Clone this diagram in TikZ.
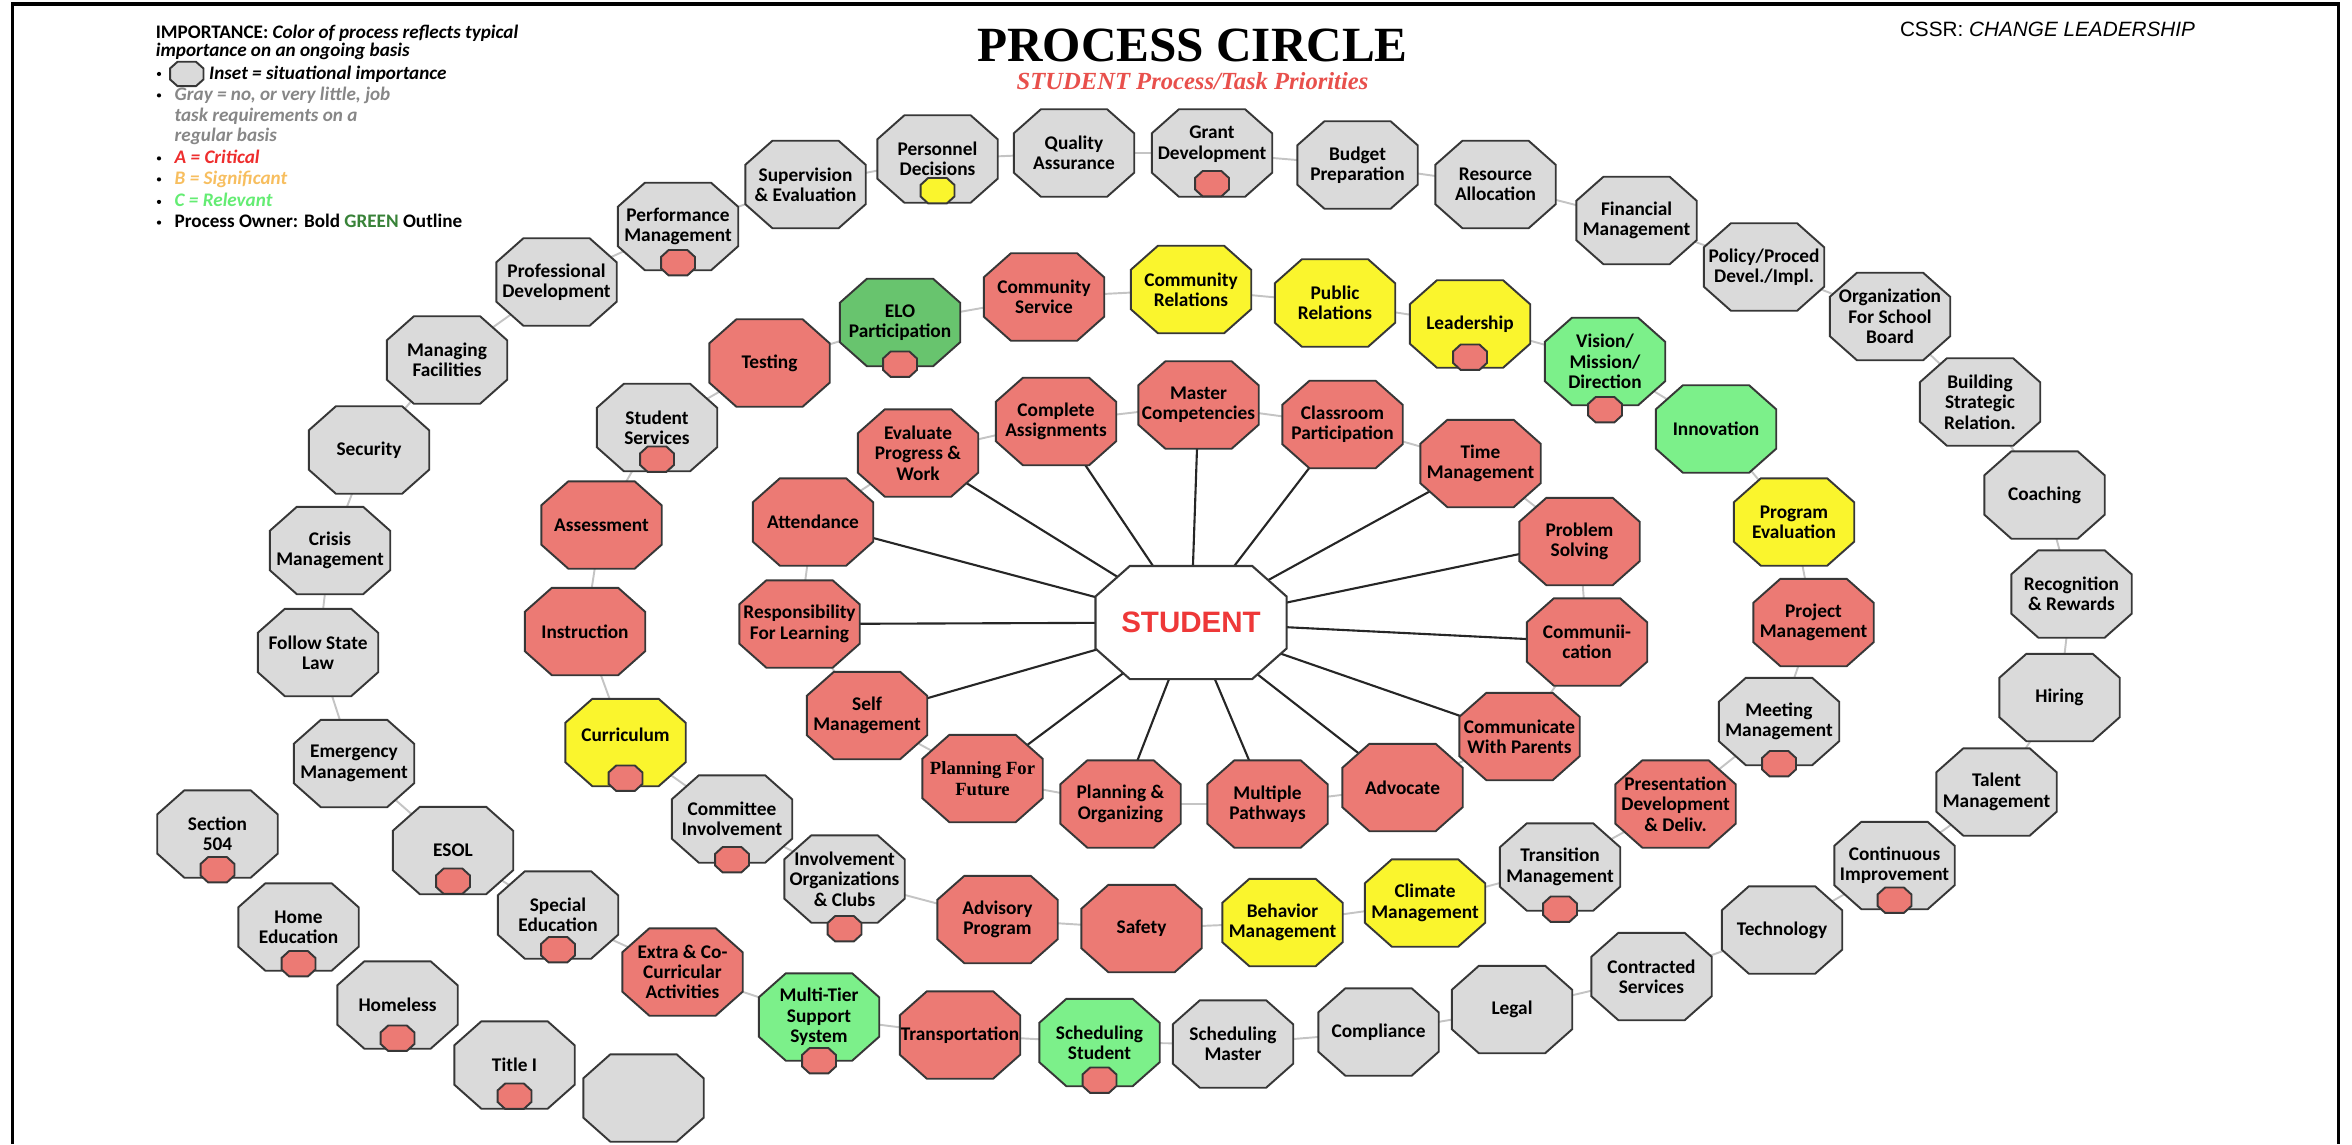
\documentclass[tikz,border=0pt]{standalone}
\usepackage{fontspec}
\setmainfont{Carlito}
\newfontfamily\serifT{Liberation Serif}
\newfontfamily\sansA{Liberation Sans}
\usetikzlibrary{backgrounds}

\definecolor{cgray}{RGB}{218,218,218}
\definecolor{cred}{RGB}{236,122,116}
\definecolor{cyel}{RGB}{250,245,45}
\definecolor{clg}{RGB}{124,240,138}
\definecolor{cdg}{RGB}{104,196,110}
\definecolor{oline}{RGB}{55,55,55}
\definecolor{linkc}{RGB}{196,196,196}
\definecolor{subred}{RGB}{232,80,76}
\definecolor{stured}{RGB}{238,56,56}
\definecolor{leggray}{RGB}{135,135,135}
\definecolor{legred}{RGB}{238,45,45}
\definecolor{legorange}{RGB}{247,190,95}
\definecolor{leggreen}{RGB}{100,236,115}
\definecolor{darkgreen}{RGB}{56,130,56}

\makeatletter
\newdimen\octXa \newdimen\octYa \newdimen\octXb \newdimen\octYb
\newdimen\octCx \newdimen\octCy
\def\octfx{0.225}\def\octfy{0.275}
\pgfdeclareshape{octo}{%
  \inheritsavedanchors[from=rectangle]
  \inheritanchorborder[from=rectangle]
  \inheritanchor[from=rectangle]{center}
  \inheritanchor[from=rectangle]{north}
  \inheritanchor[from=rectangle]{south}
  \inheritanchor[from=rectangle]{east}
  \inheritanchor[from=rectangle]{west}
  \inheritanchor[from=rectangle]{north east}
  \inheritanchor[from=rectangle]{north west}
  \inheritanchor[from=rectangle]{south east}
  \inheritanchor[from=rectangle]{south west}
  \backgroundpath{%
    \southwest \octXa=\pgf@x \octYa=\pgf@y
    \northeast \octXb=\pgf@x \octYb=\pgf@y
    \octCx=\octXb \advance\octCx by -\octXa \octCx=\octfx\octCx
    \octCy=\octYb \advance\octCy by -\octYa \octCy=\octfy\octCy
    \pgfpathmoveto{\pgfqpoint{\dimexpr\octXa+\octCx\relax}{\octYa}}%
    \pgfpathlineto{\pgfqpoint{\dimexpr\octXb-\octCx\relax}{\octYa}}%
    \pgfpathlineto{\pgfqpoint{\octXb}{\dimexpr\octYa+\octCy\relax}}%
    \pgfpathlineto{\pgfqpoint{\octXb}{\dimexpr\octYb-\octCy\relax}}%
    \pgfpathlineto{\pgfqpoint{\dimexpr\octXb-\octCx\relax}{\octYb}}%
    \pgfpathlineto{\pgfqpoint{\dimexpr\octXa+\octCx\relax}{\octYb}}%
    \pgfpathlineto{\pgfqpoint{\octXa}{\dimexpr\octYb-\octCy\relax}}%
    \pgfpathlineto{\pgfqpoint{\octXa}{\dimexpr\octYa+\octCy\relax}}%
    \pgfpathclose
  }%
}
\makeatother

\tikzset{
  octfx/.code={\def\octfx{#1}},
  octfy/.code={\def\octfy{#1}},
  nfont/.style={font=\bfseries\fontsize{5.5}{5.8}\selectfont},
  box/.style={shape=octo, draw=oline, line width=0.55pt, minimum width=11.85mm,
    minimum height=8.55mm, inner sep=0pt, align=center, text=black, nfont},
  gr/.style={box, fill=cgray},
  rd/.style={box, fill=cred},
  yl/.style={box, fill=cyel},
  lg/.style={box, fill=clg},
  dg/.style={box, fill=cdg},
  txt/.style={inner sep=0pt, align=center, text=black, nfont},
  insb/.style={shape=octo, draw=oline, line width=0.55pt, minimum width=3.2mm,
    minimum height=2.35mm, inner sep=0pt},
  link/.style={draw=linkc, line width=0.55pt},
  spoke/.style={draw=black!85, line width=0.6pt},
  leg/.style={anchor=base west, inner sep=0pt, font=\bfseries\fontsize{5.45}{5.8}\selectfont},
}
% inset: name, colour, shift above the bottom edge
\newcommand\insat[3]{\node[insb, fill=#2] (#1in) at ([yshift=#3]#1.south) {};}

\begin{document}
\begin{tikzpicture}[x=0.15mm, y=-0.15mm]
\useasboundingbox (0,0) rectangle (1568,762.67);
\draw[line width=0.9pt] (8.5,762.67) -- (8.5,2.7) -- (1559,2.7) -- (1559,762.67);

% titles
\node[anchor=base, inner sep=0pt, font=\serifT\bfseries\fontsize{14}{14}\selectfont] (title) at (795,41) {PROCESS CIRCLE};
\node[anchor=base, inner sep=0pt, text=subred, font=\serifT\bfseries\itshape\fontsize{7}{7}\selectfont] (subtitle) at (795,60) {STUDENT Process/Task Priorities};
\node[anchor=base, inner sep=0pt, font=\sansA\fontsize{5.9}{5.9}\selectfont] (cssr) at (1365,24.5) {CSSR: \textit{CHANGE LEADERSHIP}};

% legend
\node[leg] (l1) at (103.4,26) {IMPORTANCE: \textit{Color of process reflects typical}};
\node[leg] (l2) at (103.4,37.8) {\textit{importance on an ongoing basis}};
\node[insb, fill=cgray, minimum width=3.15mm, minimum height=2.25mm] (l3o) at (124.5,49.3) {};
\node[leg] (l3) at (139,52.7) {\textit{Inset = situational importance}};
\node[leg, text=leggray] (l4) at (116,67) {\textit{Gray = no, or very little, job}};
\node[leg, text=leggray] (l5) at (116,81) {\textit{task requirements on a}};
\node[leg, text=leggray] (l6) at (116,94.4) {\textit{regular basis}};
\node[leg, text=legred] (l7) at (116,109) {\textit{A = Critical}};
\node[leg, text=legorange] (l8) at (116,123) {\textit{B = Significant}};
\node[leg, text=leggreen] (l9) at (116,138) {\textit{C = Relevant}};
\node[leg] (l10) at (116,151.8) {Process Owner: Bold \textcolor{darkgreen}{GREEN} Outline};
\foreach \yy in {49.3,63.6,105.6,119.6,134.6,148.4} \fill (106,\yy) circle (1.4);

% outer ring
\node[gr] (pdev) at (371,188) {Professional\\Development};
\node[gr] (mfac) at (298,240) {Managing\\Facilities};
\node[gr] (secu) at (246,300) {Security};
\node[gr] (cris) at (220,367) {Crisis\\Management};
\node[gr] (fsl) at (212,435) {Follow State\\Law};
\node[gr] (emer) at (236,509) {Emergency\\Management};
\node[gr] (esol) at (302,567) {ESOL};
\node[gr] (sped) at (372,610) {Special\\Education};
\node[rd] (extra) at (455,648) {Extra \& Co-\\Curricular\\Activities};
\node[lg] (mtss) at (546,678) {Multi-Tier\\Support\\System};
\node[rd] (trans) at (640,690) {Transportation};
\node[lg] (schs) at (733,695) {Scheduling\\Student};
\node[gr] (schm) at (822,696) {Scheduling\\Master};
\node[gr] (comp) at (919,688) {Compliance};
\node[gr] (legal) at (1008,673) {Legal};
\node[gr] (contr) at (1101,651) {Contracted\\Services};
\node[gr] (tech) at (1188,620) {Technology};
\node[gr] (cont) at (1263,577) {Continuous\\Improvement};
\node[gr] (talent) at (1331,528) {Talent\\Management};
\node[gr] (hire) at (1373,465) {Hiring};
\node[gr] (recog) at (1381,396) {Recognition\\\& Rewards};
\node[gr] (coach) at (1363,330) {Coaching};
\node[gr] (build) at (1320,268) {Building\\Strategic\\Relation.};
\node[gr] (org) at (1260,211) {Organization\\For School\\Board};
\node[gr] (policy) at (1176,178) {Policy/Proced\\Devel./Impl.};
\node[gr] (fin) at (1091,147) {Financial\\Management};
\node[gr] (res) at (997,123) {Resource\\Allocation};
\node[gr] (budget) at (905,110) {Budget\\Preparation};
\node[gr] (grant) at (808,102) {};
\node[txt] (grantt) at (808,96) {Grant\\Development};
\node[gr] (qual) at (716,102) {Quality\\Assurance};
\node[gr] (pers) at (625,106) {Personnel\\Decisions};
\node[gr] (sup) at (537,123) {Supervision\\\& Evaluation};
\node[gr] (perf) at (452,151) {Performance\\Management};

% standalone
\node[gr] (s504) at (145,556) {Section\\504};
\node[gr] (home) at (199,618) {Home\\Education};
\node[gr] (hless) at (265,670) {Homeless};
\node[gr] (title1) at (343,710) {Title I};
\node[gr] (blank) at (429,732) {};

% middle ring
\node[rd] (test) at (513,242) {Testing};
\node[dg] (elo) at (600,215) {ELO\\Participation};
\node[rd] (csvc) at (696,198) {Community\\Service};
\node[yl] (crel) at (794,193) {Community\\Relations};
\node[yl] (prel) at (890,202) {Public\\Relations};
\node[yl] (lead) at (980,216) {Leadership};
\node[lg] (vis) at (1070,241) {Vision/\\Mission/\\Direction};
\node[lg] (innov) at (1144,286) {Innovation};
\node[yl] (peval) at (1196,348) {Program\\Evaluation};
\node[rd] (proj) at (1209,415) {Project\\Management};
\node[gr] (meet) at (1186,481) {Meeting\\Management};
\node[rd] (pres) at (1117,536) {Presentation\\Development\\\& Deliv.};
\node[gr] (trn) at (1040,578) {Transition\\Management};
\node[yl] (clim) at (950,602) {Climate\\Management};
\node[yl] (behav) at (855,615) {Behavior\\Management};
\node[rd] (safe) at (761,619) {Safety};
\node[rd] (adv) at (665,613) {Advisory\\Program};
\node[gr] (invo) at (563,586) {Involvement\\Organizations\\\& Clubs};
\node[gr] (comm) at (488,546) {Committee\\Involvement};
\node[yl] (curr) at (417,495) {};
\node[txt] (currt) at (417,490) {Curriculum};
\node[rd] (instr) at (390,421) {Instruction};
\node[rd] (assess) at (401,350) {Assessment};
\node[gr] (ssvc) at (438,285) {Student\\Services};

% inner ring
\node[rd] (eval) at (612,302) {Evaluate\\Progress \&\\Work};
\node[rd] (compl) at (704,281) {Complete\\Assignments};
\node[rd] (master) at (799,270) {Master\\Competencies};
\node[rd] (class) at (895,283) {Classroom\\Participation};
\node[rd] (time) at (987,309) {Time\\Management};
\node[rd] (prob) at (1053,361) {Problem\\Solving};
\node[rd] (commu) at (1058,428) {Communii-\\cation};
\node[rd] (par) at (1013,491) {Communicate\\With Parents};
\node[rd] (advoc) at (935,525) {Advocate};
\node[rd] (mult) at (845,536) {Multiple\\Pathways};
\node[rd] (plorg) at (747,536) {Planning \&\\Organizing};
\node[rd, font=\serifT\bfseries\fontsize{5.3}{5.9}\selectfont] (plfut) at (655,519) {Planning For\\Future};
\node[rd] (self) at (578,477) {Self\\Management};
\node[rd] (resp) at (533,416) {Responsibility\\For Learning};
\node[rd] (att) at (542,348) {Attendance};

% center
\node[shape=octo, draw=oline, line width=0.6pt, fill=white, minimum width=18.9mm,
  minimum height=11.1mm, inner sep=0pt, octfx=0.18, octfy=0.27, text=stured,
  font=\sansA\bfseries\fontsize{8.4}{8.4}\selectfont] (stu) at (794,415) {STUDENT};

% insets
\insat{perf}{cred}{0.75mm}
\insat{pers}{cyel}{1.2mm}
\insat{grant}{cred}{1.3mm}
\insat{elo}{cred}{0.2mm}
\insat{lead}{cred}{1.05mm}
\insat{vis}{cred}{-0.45mm}
\insat{ssvc}{cred}{1.2mm}
\insat{curr}{cred}{0.8mm}
\insat{comm}{cred}{0.3mm}
\insat{invo}{cred}{-0.6mm}
\insat{mtss}{cred}{0mm}
\insat{schs}{cred}{0.6mm}
\insat{sped}{cred}{0.9mm}
\insat{esol}{cred}{1.3mm}
\insat{s504}{cred}{0.8mm}
\insat{home}{cred}{0.7mm}
\insat{hless}{cred}{1.05mm}
\insat{title1}{cred}{1.25mm}
\insat{trn}{cred}{0.15mm}
\insat{meet}{cred}{0.15mm}
\insat{cont}{cred}{0.9mm}

\begin{scope}[on background layer]
\foreach \a/\b in {emer/fsl,fsl/cris,cris/secu,secu/mfac,mfac/pdev,pdev/perf,perf/sup,sup/pers,
  pers/qual,qual/grant,grant/budget,budget/res,res/fin,fin/policy,policy/org,org/build,
  build/coach,coach/recog,recog/hire,hire/talent,talent/cont,cont/tech,tech/contr,
  contr/legal,legal/comp,comp/schm,schm/schs,schs/trans,trans/mtss,mtss/extra,
  extra/sped,sped/esol,esol/emer,
  test/elo,elo/csvc,csvc/crel,crel/prel,prel/lead,lead/vis,vis/innov,innov/peval,
  peval/proj,proj/meet,meet/pres,pres/trn,trn/clim,clim/behav,behav/safe,safe/adv,
  adv/invo,invo/comm,comm/curr,curr/instr,instr/assess,assess/ssvc,ssvc/test,
  eval/compl,compl/master,master/class,class/time,time/prob,prob/commu,commu/par,
  par/advoc,advoc/mult,mult/plorg,plorg/plfut,plfut/self,self/resp,resp/att,att/eval}
  \draw[link] (\a.center) -- (\b.center);
\foreach \b in {eval,compl,master,class,time,prob,commu,par,advoc,mult,plorg,plfut,self,resp,att}
  \draw[spoke] (stu.center) -- (\b.center);
\end{scope}
\end{tikzpicture}
\end{document}
